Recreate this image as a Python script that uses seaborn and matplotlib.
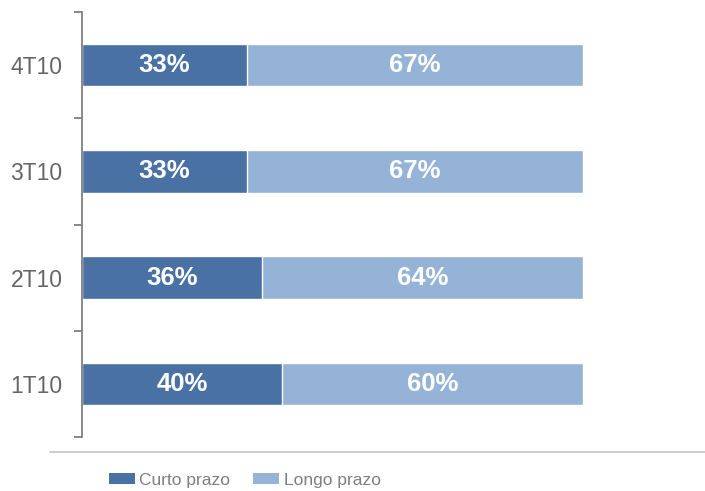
import matplotlib
matplotlib.use("Agg")
import matplotlib.pyplot as plt
import seaborn as sns
import pandas as pd
from matplotlib.patches import Patch
from matplotlib.lines import Line2D

categories = ["4T10", "3T10", "2T10", "1T10"]
curto = [33, 33, 36, 40]
longo = [67, 67, 64, 60]

dark = "#4A71A3"
light = "#95B3D7"
gray_txt = "#666666"

sns.set_theme(style="white")
plt.rcParams["font.family"] = ["Liberation Sans", "DejaVu Sans"]

df = pd.DataFrame({"cat": categories, "curto": curto, "longo": longo})
df["total"] = df["curto"] + df["longo"]

fig = plt.figure(figsize=(7.05, 4.91), dpi=100)
ax = fig.add_axes([82 / 705, 1 - 437 / 491, 623 / 705, 425 / 491])

sns.barplot(data=df, x="total", y="cat", order=categories, orient="h",
            color=light, width=0.4, ax=ax, saturation=1)
sns.barplot(data=df, x="curto", y="cat", order=categories, orient="h",
            color=dark, width=0.4, ax=ax, saturation=1)

for i, (c, l) in enumerate(zip(curto, longo)):
    ax.text(c / 2, i, f"{c}%", ha="center", va="center", color="white",
            fontsize=18.5, fontweight="bold")
    ax.text(c + l / 2, i, f"{l}%", ha="center", va="center", color="white",
            fontsize=18.5, fontweight="bold")

ax.set_xlim(0, 124.4)
ax.set_ylim(3.5, -0.5)
ax.set_xlabel("")
ax.set_ylabel("")
ax.set_xticks([])

ax.set_yticks([-0.5, 0.5, 1.5, 2.5, 3.5])
ax.set_yticklabels([])
ax.set_yticks(range(len(categories)), minor=True)
ax.set_yticklabels(categories, minor=True, color=gray_txt, fontsize=16.5)
ax.tick_params(axis="y", which="major", left=True, length=6, width=1.3, color="#808080", direction="out")
ax.tick_params(axis="y", which="minor", left=False, length=0, pad=14)

for s in ["top", "right", "bottom"]:
    ax.spines[s].set_visible(False)
ax.spines["left"].set_color("#808080")
ax.spines["left"].set_linewidth(1.3)

fig.add_artist(Line2D([50 / 705, 1], [1 - 452 / 491] * 2, color="#c8c8c8", lw=1.3,
                      transform=fig.transFigure))

handles = [Patch(facecolor=dark, edgecolor="none", label="Curto prazo"),
           Patch(facecolor=light, edgecolor="none", label="Longo prazo")]
leg = fig.legend(handles=handles, loc="center left", bbox_to_anchor=(93 / 705, 1 - 480 / 491),
                 ncol=2, frameon=False, handlelength=1.5, handleheight=0.6,
                 handletextpad=0.25, columnspacing=1.35,
                 prop={"family": ["Liberation Sans Narrow", "Liberation Sans"], "size": 12.5})
for t in leg.get_texts():
    t.set_color("#7f7f7f")

fig.savefig("out.png", dpi=100)
